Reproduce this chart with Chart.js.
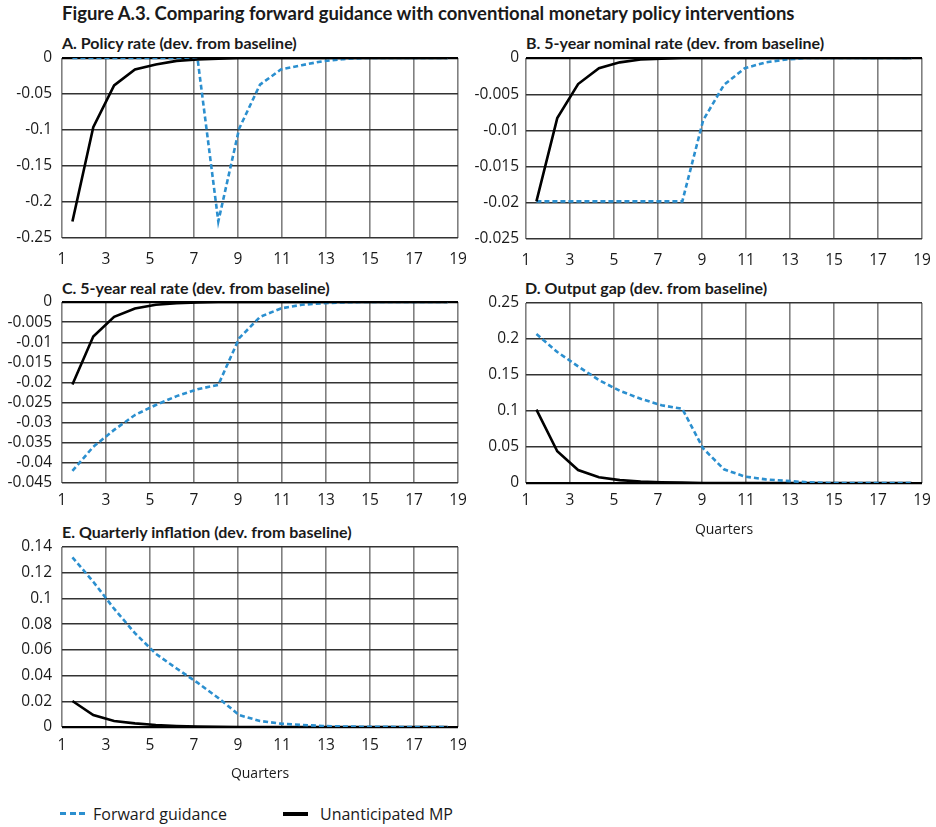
<!DOCTYPE html>
<html>
<head>
<meta charset="utf-8">
<script src="https://cdn.jsdelivr.net/npm/chart.js@4"></script>
<style>
  body { margin: 0; background: #fff; width: 936px; height: 827px; position: relative; overflow: hidden;
         font-family: "Open Sans", sans-serif; color: #1a1a1a; }
  .t { position: absolute; font-family: Lato, sans-serif; font-weight: bold; white-space: nowrap; line-height: 1.2; }
  .main { left: 62px; top: 2px; font-size: 18.5px; }
  .sub { font-size: 16px; }
  .box { position: absolute; }
  .leg { position: absolute; font-size: 16px; line-height: 20px; top: 804px; white-space: nowrap; }
  .sw { position: absolute; top: 812px; width: 25px; height: 3px; }
</style>
</head>
<body>
<div class="t main">Figure A.3. Comparing forward guidance with conventional monetary policy interventions</div>

<div class="t sub" style="left:62px;top:32.5px">A. Policy rate (dev. from baseline)</div>
<div class="t sub" style="left:526px;top:32.5px">B. 5-year nominal rate (dev. from baseline)</div>
<div class="t sub" style="left:62px;top:277.5px">C. 5-year real rate (dev. from baseline)</div>
<div class="t sub" style="left:525px;top:277.5px">D. Output gap (dev. from baseline)</div>
<div class="t sub" style="left:62px;top:522px">E. Quarterly inflation (dev. from baseline)</div>

<div class="box" style="left:0;top:48px"><canvas id="chartA" width="470" height="220"></canvas></div>
<div class="box" style="left:466px;top:48px"><canvas id="chartB" width="470" height="221"></canvas></div>
<div class="box" style="left:0;top:292px"><canvas id="chartC" width="470" height="221"></canvas></div>
<div class="box" style="left:466px;top:293px"><canvas id="chartD" width="470" height="246"></canvas></div>
<div class="box" style="left:0;top:537px"><canvas id="chartE" width="470" height="246"></canvas></div>

<div class="sw" style="left:60px;background:repeating-linear-gradient(to right,#2b8fcf 0 6px,transparent 6px 9.5px)"></div>
<div class="leg" style="left:93px">Forward guidance</div>
<div class="sw" style="left:283px;background:#000;height:3.5px"></div>
<div class="leg" style="left:320px">Unanticipated MP</div>

<script>
// 19 quarters of simulated responses
const quarters = [1, 2, 3, 4, 5, 6, 7, 8, 9, 10, 11, 12, 13, 14, 15, 16, 17, 18, 19];

const policyFG = [0, 0, 0, 0, 0, 0, 0, -0.227, -0.098, -0.037, -0.016, -0.01, -0.0045, -0.0015, 0, 0, 0, 0, 0];
const policyMP = [-0.227, -0.096, -0.038, -0.016, -0.009, -0.004, -0.002, -0.001, 0, 0, 0, 0, 0, 0, 0, 0, 0, 0, 0];

const nominalFG = [-0.0198, -0.0198, -0.0198, -0.0198, -0.0198, -0.0198, -0.0198, -0.0198, -0.0086, -0.0037, -0.0014, -0.0006, -0.0002, 0, 0, 0, 0, 0, 0];
const nominalMP = [-0.0198, -0.0083, -0.0036, -0.0014, -0.0006, -0.0002, -0.0001, 0, 0, 0, 0, 0, 0, 0, 0, 0, 0, 0, 0];

const realFG = [-0.042, -0.036, -0.0318, -0.0281, -0.0256, -0.0234, -0.0217, -0.0206, -0.009, -0.0037, -0.0016, -0.0007, -0.0003, -0.0001, 0, 0, 0, 0, 0];
const realMP = [-0.0205, -0.0086, -0.0037, -0.0016, -0.0007, -0.0003, -0.0001, 0, 0, 0, 0, 0, 0, 0, 0, 0, 0, 0, 0];

const gapFG = [0.207, 0.182, 0.162, 0.143, 0.128, 0.117, 0.108, 0.103, 0.048, 0.019, 0.009, 0.005, 0.003, 0.001, 0, 0, 0, 0, 0];
const gapMP = [0.102, 0.044, 0.018, 0.008, 0.004, 0.002, 0.001, 0.0005, 0, 0, 0, 0, 0, 0, 0, 0, 0, 0, 0];

const inflFG = [0.132, 0.113, 0.092, 0.073, 0.057, 0.0455, 0.0345, 0.0226, 0.0093, 0.0047, 0.0026, 0.0016, 0.0008, 0.0004, 0.0002, 0.0001, 0, 0, 0];
const inflMP = [0.0202, 0.0093, 0.0047, 0.0028, 0.0015, 0.0008, 0.0003, 0.0001, 0, 0, 0, 0, 0, 0, 0, 0, 0, 0, 0];

// axis: [min, max, step]
const quarterAxis = [1, 19, 2];
const policyAxis = [-0.25, 0, 0.05];
const nominalAxis = [-0.025, 0, 0.005];
const realAxis = [-0.045, 0, 0.005];
const gapAxis = [0, 0.25, 0.05];
const inflAxis = [0, 0.14, 0.02];

const blue = '#2b8fcf';
const tickFont = { family: '"Open Sans", sans-serif', size: 15.5 };

function panel(id, fg, mp, yAxis, opt) {
  const ctx = document.getElementById(id).getContext('2d');
  new Chart(ctx, {
    type: 'line',
    data: {
      labels: quarters,
      datasets: [
        { label: 'Forward guidance', data: fg, borderColor: blue, borderWidth: 2.6, borderDash: [5, 3],
          pointRadius: 0, tension: 0, order: opt.blueTop ? 0 : 1 },
        { label: 'Unanticipated MP', data: mp, borderColor: '#000', borderWidth: 2.6,
          pointRadius: 0, tension: 0, order: opt.blueTop ? 1 : 0 }
      ]
    },
    options: {
      responsive: false,
      animation: false,
      layout: { padding: { left: 0, right: opt.right, top: 10, bottom: 0 } },
      plugins: { legend: { display: false }, tooltip: { enabled: false } },
      scales: {
        x: { type: 'category', offset: true, display: false },
        x2: {
          type: 'linear', position: 'bottom',
          min: quarterAxis[0], max: quarterAxis[1],
          ticks: { stepSize: quarterAxis[2], font: tickFont, color: '#1a1a1a', padding: opt.xPad,
                   maxRotation: 0, autoSkip: false },
          grid: { color: '#808080', lineWidth: 1.6, drawTicks: false },
          border: { display: false },
          title: opt.quarters ? { display: true, text: 'Quarters', font: { family: '"Open Sans", sans-serif', size: 14 },
                                  color: '#1a1a1a', padding: { top: 0, bottom: 1 } } : { display: false },
          afterFit: s => { s.height = opt.quarters ? 56 : 30; s.paddingLeft = 0; s.paddingRight = 0; }
        },
        y: {
          min: yAxis[0], max: yAxis[1],
          ticks: { stepSize: yAxis[2], font: tickFont, color: '#1a1a1a', padding: opt.yPad, autoSkip: false,
                   callback: v => String(+v.toFixed(4)) },
          grid: { color: c => c.tick && c.tick.value === 0 ? '#000' : '#333',
                  lineWidth: c => c.tick && c.tick.value === 0 ? 2.2 : 1.4, drawTicks: false },
          border: { display: false },
          afterFit: s => { s.width = opt.yWidth; s.paddingTop = 0; s.paddingBottom = 0; }
        }
      }
    }
  });
}

panel('chartA', policyFG, policyMP, policyAxis, { right: 12, yWidth: 62, yPad: 10, xPad: 12 });
panel('chartB', nominalFG, nominalMP, nominalAxis, { right: 14, yWidth: 60, yPad: 7, xPad: 12 });
panel('chartC', realFG, realMP, realAxis, { right: 12, yWidth: 62, yPad: 10, xPad: 8 });
panel('chartD', gapFG, gapMP, gapAxis, { right: 14, yWidth: 60, yPad: 7, xPad: 8, quarters: true, blueTop: true });
panel('chartE', inflFG, inflMP, inflAxis, { right: 12, yWidth: 62, yPad: 10, xPad: 9, quarters: true, blueTop: true });
</script>
</body>
</html>
